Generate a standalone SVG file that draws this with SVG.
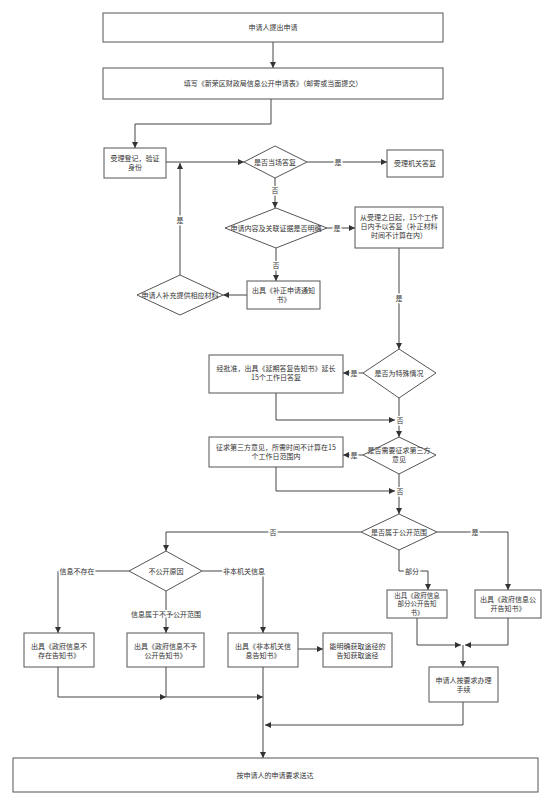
<svg xmlns="http://www.w3.org/2000/svg" width="553" height="796" viewBox="0 0 553 796">
<defs>
<marker id="ah" markerWidth="6" markerHeight="6" refX="6" refY="3" orient="auto" markerUnits="userSpaceOnUse"><path d="M0,0 L6,3 L0,6 z" fill="#333"/></marker>
<style>
.b{fill:#fff;stroke:#555;stroke-width:1}
.c{fill:none;stroke:#444;stroke-width:1}
.a{marker-end:url(#ah)}
text{font-family:"Noto Sans CJK SC","Noto Sans",sans-serif;font-size:7px;fill:#333;text-anchor:middle}
.s{font-size:6.5px}
.l{stroke:#fff;stroke-width:3px;paint-order:stroke;stroke-linejoin:round}
</style>
</defs>
<rect width="553" height="796" fill="#fff"/>
<g id="connectors">
<path class="c a" d="M273,42 V68"/>
<path class="c a" d="M271,99 V124 H135 V148"/>
<path class="c a" d="M166,162 H244"/>
<path class="c a" d="M307,162 H387"/>
<path class="c a" d="M275,178 V208"/>
<path class="c a" d="M327,228 H355"/>
<path class="c a" d="M276,248 V281"/>
<path class="c a" d="M247,295 H223"/>
<path class="c a" d="M180,275 V163"/>
<path class="c a" d="M399,248 V349"/>
<path class="c a" d="M363,373 H343"/>
<path class="c a" d="M276,393 V420 H395"/>
<path class="c a" d="M399,398 V437"/>
<path class="c a" d="M363,455 H343"/>
<path class="c a" d="M276,467 V491 H395"/>
<path class="c a" d="M399,474 V514"/>
<path class="c a" d="M361,532 H166 V551"/>
<path class="c a" d="M437,532 H508 V590"/>
<path class="c a" d="M399,550 V571 H428 V590"/>
<path class="c a" d="M417,618 V645 H461"/>
<path class="c a" d="M508,618 V645 H465"/>
<path class="c a" d="M463,645 V667"/>
<path class="c a" d="M129,571 H58 V633"/>
<path class="c a" d="M202,571 H263 V633"/>
<path class="c a" d="M166,591 V633"/>
<path class="c a" d="M298,649 H323"/>
<path class="c a" d="M58,667 V697 H166"/>
<path class="c a" d="M166,667 V697 H263"/>
<path class="c a" d="M263,667 V758"/>
<path class="c a" d="M463,702 V725 H265"/>
<text class="l" x="338" y="164.5">是</text>
<text class="l" x="275" y="192.5">否</text>
<text class="l" x="180" y="222.5">是</text>
<text class="l" x="337" y="230.5">是</text>
<text class="l" x="276" y="267.5">否</text>
<text class="l" x="399" y="300.5">是</text>
<text class="l" x="354" y="375.5">是</text>
<text class="l" x="400" y="422.5">否</text>
<text class="l" x="354" y="457.5">是</text>
<text class="l" x="400" y="493.5">否</text>
<text class="l" x="273" y="534.5">否</text>
<text class="l" x="475" y="534.5">是</text>
<text class="l" x="412" y="573.5">部分</text>
<text class="l" x="77" y="573.5">信息不存在</text>
<text class="l" x="244" y="573.5">非本机关信息</text>
<text class="l" x="166" y="616.5">信息属于不予公开范围</text>
</g>
<g id="n1"><rect class="b" x="103" y="13" width="340" height="29"/><text x="273" y="30">申请人提出申请</text></g>
<g id="n2"><rect class="b" x="103" y="68" width="340" height="31"/><text x="273" y="86">填写《新荣区财政局信息公开申请表》（邮寄或当面提交）</text></g>
<g id="n3"><rect class="b" x="104" y="148" width="62" height="30"/><text x="135" y="161">受理登记，验证</text><text x="135" y="170">身份</text></g>
<g id="d1"><polygon class="b" points="275,146 307,162 275,178 244,162"/><text x="275" y="164.5">是否当场答复</text></g>
<g id="n4"><rect class="b" x="387" y="150" width="56" height="27"/><text x="415" y="166">受理机关答复</text></g>
<g id="d2"><polygon class="b" points="276,208 327,228 276,248 225,228"/><text x="276" y="230.5">申请内容及关联证据是否明确</text></g>
<g id="n5"><rect class="b" x="355" y="207" width="88" height="41"/><text x="399" y="220">从受理之日起，15个工作</text><text x="399" y="229">日内予以答复（补正材料</text><text x="399" y="238">时间不计算在内）</text></g>
<g id="n6"><rect class="b" x="247" y="281" width="73" height="28"/><text x="283.5" y="293">出具《补正申请通知</text><text x="283.5" y="302">书》</text></g>
<g id="d3"><polygon class="b" points="180,275 223,295 180,315 137,295"/><text x="180" y="297.5">申请人补充提供相应材料</text></g>
<g id="d4"><polygon class="b" points="399,349 436,373 399,398 363,373"/><text x="399" y="375.5">是否为特殊情况</text></g>
<g id="n7"><rect class="b" x="209" y="355" width="134" height="38"/><text x="276" y="371">经批准，出具《延期答复告知书》延长</text><text x="276" y="380">15个工作日答复</text></g>
<g id="d5"><polygon class="b" points="399,437 436,455 399,474 363,455"/><text x="399" y="453">是否需要征求第三方</text><text x="399" y="462">意见</text></g>
<g id="n8"><rect class="b" x="209" y="437" width="134" height="30"/><text x="276" y="450">征求第三方意见，所需时间不计算在15</text><text x="276" y="459">个工作日范围内</text></g>
<g id="d6"><polygon class="b" points="399,514 437,532 399,550 361,532"/><text x="399" y="534.5">是否属于公开范围</text></g>
<g id="d7"><polygon class="b" points="166,551 202,571 166,591 129,571"/><text x="166" y="573.5">不公开原因</text></g>
<g id="n9"><rect class="b" x="387" y="590" width="60" height="28"/><text class="s" x="417" y="597.5">出具《政府信息</text><text class="s" x="417" y="606">部分公开告知</text><text class="s" x="417" y="614.5">书》</text></g>
<g id="n10"><rect class="b" x="475" y="590" width="66" height="28"/><text x="508" y="601.5">出具《政府信息公</text><text x="508" y="610.5">开告知书》</text></g>
<g id="n11"><rect class="b" x="429" y="667" width="69" height="35"/><text x="463.5" y="683">申请人按要求办理</text><text x="463.5" y="691.5">手续</text></g>
<g id="n12"><rect class="b" x="24" y="633" width="70" height="34"/><text x="59" y="649">出具《政府信息不</text><text x="59" y="657.5">存在告知书》</text></g>
<g id="n13"><rect class="b" x="127" y="633" width="77" height="34"/><text x="165.5" y="649">出具《政府信息不予</text><text x="165.5" y="657.5">公开告知书》</text></g>
<g id="n14"><rect class="b" x="228" y="633" width="70" height="34"/><text x="263" y="649">出具《非本机关信</text><text x="263" y="657.5">息告知书》</text></g>
<g id="n15"><rect class="b" x="323" y="633" width="69" height="34"/><text x="357.5" y="649">能明确获取途径的</text><text x="357.5" y="657.5">告知获取途径</text></g>
<g id="n16"><rect class="b" x="13" y="758" width="525" height="34"/><text x="275" y="778">按申请人的申请要求送达</text></g>
</svg>
